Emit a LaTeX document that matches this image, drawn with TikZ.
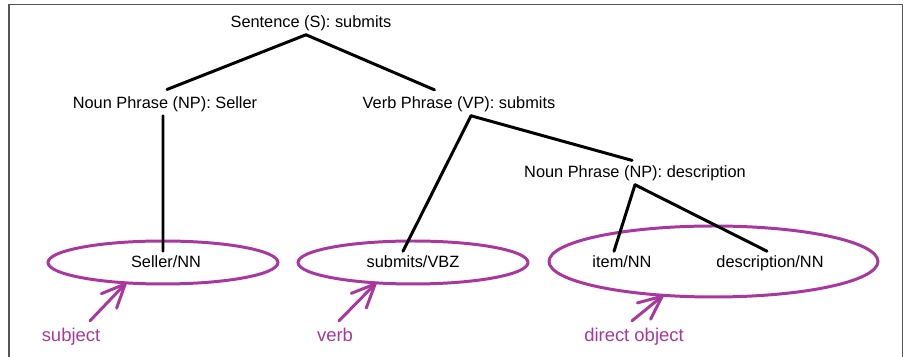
\documentclass[tikz,border=0pt]{standalone}
\usepackage{fontspec}
\setmainfont{Liberation Sans}
\usetikzlibrary{positioning,shapes.geometric,arrows.meta}
\definecolor{tagpurple}{RGB}{168,55,160}
\definecolor{framegray}{RGB}{85,85,85}
\begin{document}
\begin{tikzpicture}[
    x=0.02cm, y=-0.02cm,
    phrase/.style={inner sep=2pt, text height=7pt, text depth=2pt,
                   font=\fontsize{9.3}{11}\selectfont},
    oval/.style={ellipse, draw=tagpurple, line width=1.7pt, inner sep=0pt, outer sep=0pt},
    tag/.style={text=tagpurple, text height=8pt, text depth=2.2pt,
                font=\fontsize{10.5}{12}\selectfont},
    branch/.style={line width=1.7pt, line cap=round},
    pointer/.style={-{Straight Barb[length=0.47cm, width=0.42cm, round]},
                    draw=tagpurple, line width=1.7pt, line cap=round}
]
\useasboundingbox (0,0) rectangle (907,357);
\draw[framegray, line width=1.1pt] (9,357) -- (9,4.5) -- (902.5,4.5) -- (902.5,357);

\node[oval, minimum width=4.6cm, minimum height=0.86cm] (ovSubj) at (163,262.5) {};
\node[oval, minimum width=4.6cm, minimum height=0.86cm] (ovVerb) at (413,262.5) {};
\node[oval, minimum width=6.58cm, minimum height=1.42cm] (ovObj) at (713.5,261.5) {};

\node[phrase] (sent) at (311,23) {Sentence (S): submits};
\node[phrase] (npS) at (165,104) {Noun Phrase (NP): Seller};
\node[phrase] (vp) at (459,104) {Verb Phrase (VP): submits};
\node[phrase] (npD) at (635,173) {Noun Phrase (NP): description};
\node[phrase] (wSeller) at (166,263) {Seller/NN};
\node[phrase] (wSubmits) at (413,263) {submits/VBZ};
\node[phrase] (wItem) at (622,263) {item/NN};
\node[phrase] (wDesc) at (770,263) {description/NN};

\node[tag] (subj) at (71,336) {subject};
\node[tag] (verbLbl) at (335,336) {verb};
\node[tag] (dobj) at (634,336) {direct object};

\draw[branch, shorten >=0.15cm] ([xshift=-0.1cm]sent.south) -- ([xshift=-0.1cm]npS.north);
\draw[branch, shorten >=0.12cm] ([xshift=-0.1cm]sent.south) -- ([xshift=-0.38cm]vp.north);
\draw[branch] ([xshift=-0.04cm]npS.south) -- ([xshift=-0.06cm]wSeller.north);
\draw[branch] ([xshift=0.24cm]vp.south) -- ([xshift=-0.2cm]wSubmits.north);
\draw[branch, shorten >=0.06cm] ([xshift=0.24cm]vp.south) -- (npD.north);
\draw[branch] (npD.south) -- ([xshift=-0.16cm]wItem.north);
\draw[branch] (npD.south) -- ([xshift=-0.06cm]wDesc.north);

\draw[pointer] ([xshift=0.38cm]subj.north) -- (ovSubj.209);
\draw[pointer] ([xshift=0.08cm]verbLbl.north) -- (ovVerb.209);
\draw[pointer] ([xshift=-0.04cm]dobj.north) -- (ovObj.214.6);
\end{tikzpicture}
\end{document}
